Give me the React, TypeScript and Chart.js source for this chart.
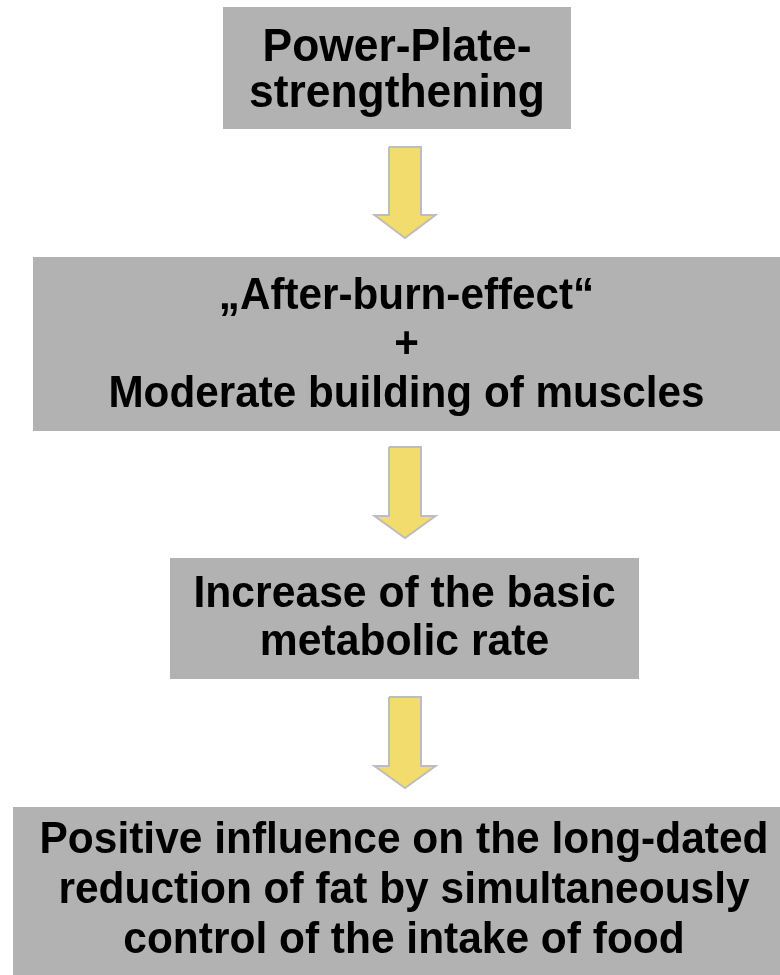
import React, { useEffect, useRef } from "react";
import { Chart, registerables } from "chart.js";

Chart.register(...registerables);

// ---- data ----
const boxLines: string[][] = [
  ["Power-Plate-", "strengthening"],
  ["\u201EAfter-burn-effect\u201C", "+", "Moderate building of muscles"],
  ["Increase of the basic", "metabolic rate"],
  [
    "Positive influence on the long-dated",
    "reduction of fat by simultaneously",
    "control of the intake of food",
  ],
];
const boxLeft = [223, 33, 170, 13];
const boxRight = [571, 780, 639, 795];
const boxTop = [7, 257, 558, 807];
const boxBottom = [129, 431, 679, 975];

const arrowX = [405, 405, 405];
const arrowShaftTop = [147, 447, 697];
const arrowHeadTop = [215, 516, 766];
const arrowTip = [238, 538, 788];

// ---- style ----
const SHAFT_HALF = 16;
const HEAD_HALF = 30.5;
const BOX_COLOR = "#b2b2b2";
const ARROW_FILL = "#f1dc6d";
const ARROW_EDGE = "#bdbdbd";
const FONT_SIZE = [46, 44, 44, 44];
const LINE_GAP = [46, 49, 48, 50];
const TEXT_DY = [3, 2, 0, 0];
const H_SCALE = [0.965, 0.96, 0.97, 0.965];

function boxDataset(i: number) {
  const d = [
    { x: boxLeft[i], y: boxTop[i] },
    { x: boxRight[i], y: boxTop[i] },
    { x: boxRight[i], y: boxBottom[i] },
    { x: boxLeft[i], y: boxBottom[i] },
    { x: boxLeft[i], y: boxTop[i] },
  ];
  return {
    data: d,
    fill: "shape",
    backgroundColor: BOX_COLOR,
    borderColor: BOX_COLOR,
    borderWidth: 0,
    pointRadius: 0,
    tension: 0,
    clip: false,
  };
}

function arrowDataset(i: number) {
  const c = arrowX[i];
  const d = [
    { x: c - SHAFT_HALF, y: arrowShaftTop[i] },
    { x: c + SHAFT_HALF, y: arrowShaftTop[i] },
    { x: c + SHAFT_HALF, y: arrowHeadTop[i] },
    { x: c + HEAD_HALF, y: arrowHeadTop[i] },
    { x: c, y: arrowTip[i] },
    { x: c - HEAD_HALF, y: arrowHeadTop[i] },
    { x: c - SHAFT_HALF, y: arrowHeadTop[i] },
    { x: c - SHAFT_HALF, y: arrowShaftTop[i] },
  ];
  return {
    data: d,
    fill: "shape",
    backgroundColor: ARROW_FILL,
    borderColor: ARROW_EDGE,
    borderWidth: 2,
    borderJoinStyle: "miter",
    pointRadius: 0,
    tension: 0,
    clip: false,
  };
}

const textPlugin = {
  id: "boxText",
  afterDatasetsDraw(chart: any) {
    const { ctx, scales } = chart;
    const xs = scales.x;
    const ys = scales.y;
    ctx.save();
    ctx.fillStyle = "#000";
    ctx.textAlign = "center";
    ctx.textBaseline = "middle";
    boxLines.forEach((lines, i) => {
      const cx = (xs.getPixelForValue(boxLeft[i]) + xs.getPixelForValue(boxRight[i])) / 2;
      const cy = (ys.getPixelForValue(boxTop[i]) + ys.getPixelForValue(boxBottom[i])) / 2 + TEXT_DY[i];
      ctx.font = `bold ${FONT_SIZE[i]}px "Liberation Sans", Arial, sans-serif`;
      const n = lines.length;
      lines.forEach((t, k) => {
        const y = cy + (k - (n - 1) / 2) * LINE_GAP[i];
        ctx.save();
        ctx.translate(cx, y);
        ctx.scale(H_SCALE[i], 1);
        ctx.fillText(t, 0, 0);
        ctx.restore();
      });
    });
    ctx.restore();
  },
};

export default function App() {
  const ref = useRef<HTMLCanvasElement | null>(null);
  useEffect(() => {
    if (!ref.current) return;
    const datasets: any[] = [];
    boxLines.forEach((_, i) => datasets.push(boxDataset(i)));
    arrowX.forEach((_, i) => datasets.push(arrowDataset(i)));
    const chart = new Chart(ref.current, {
      type: "line",
      data: { datasets },
      options: {
        responsive: false,
        maintainAspectRatio: false,
        animation: false,
        events: [],
        layout: { padding: 0 },
        plugins: { legend: { display: false }, tooltip: { enabled: false } },
        scales: {
          x: { type: "linear", min: 0, max: 780, display: false },
          y: { type: "linear", min: 0, max: 975, reverse: true, display: false },
        },
      },
      plugins: [textPlugin],
    } as any);
    return () => chart.destroy();
  }, []);
  return (
    <div style={{ position: "absolute", left: 0, top: 0, width: 780, height: 975, background: "#fff" }}>
      <canvas ref={ref} width={780} height={975} style={{ display: "block", width: 780, height: 975 }} />
    </div>
  );
}
